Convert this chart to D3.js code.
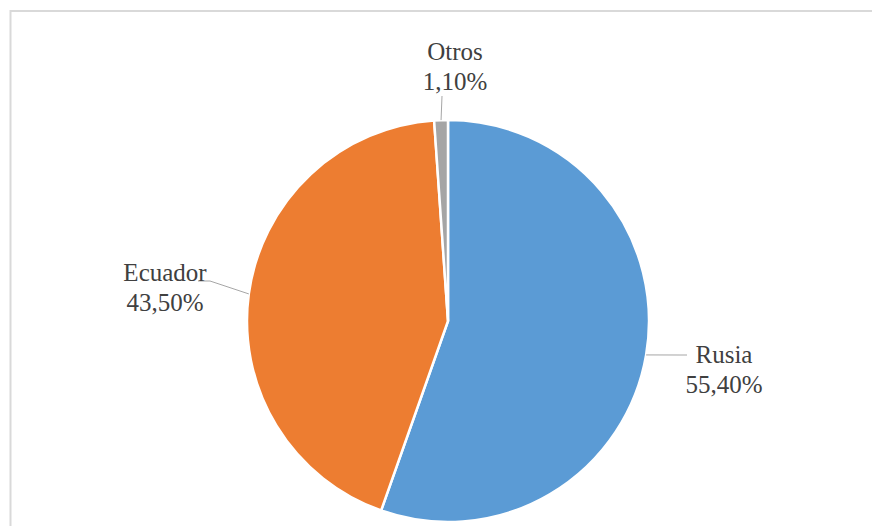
<!DOCTYPE html>
<html>
<head>
<meta charset="utf-8">
<script src="https://cdn.jsdelivr.net/npm/d3@7"></script>
</head>
<body style="margin:0;background:#fff">
<svg id="chart" width="872" height="526" style="display:block" font-family="serif"></svg>
<script>
// Export share by country
const categories = ["Rusia", "Ecuador", "Otros"];
const values = [55.4, 43.5, 1.1];
const valueLabels = ["55,40%", "43,50%", "1,10%"];
const colors = ["#5B9BD5", "#ED7D31", "#A5A5A5"];

const svg = d3.select("#chart");
const W = 872, H = 526;

// outer frame
svg.append("rect")
  .attr("x", 10.5).attr("y", 11)
  .attr("width", W + 20).attr("height", H + 20)
  .attr("fill", "#fff")
  .attr("stroke", "#d9d9d9").attr("stroke-width", 2);

const cx = 448, cy = 321, r = 201;
const g = svg.append("g").attr("transform", `translate(${cx},${cy})`);

const pie = d3.pie().sort(null).value(d => d.v)
  .startAngle(0).endAngle(2 * Math.PI);
const data = categories.map((c, i) => ({ c, v: values[i], label: valueLabels[i], color: colors[i] }));
const arcs = pie(data);
const arc = d3.arc().innerRadius(0).outerRadius(r);

g.selectAll("path.slice").data(arcs).enter().append("path")
  .attr("class", "slice")
  .attr("d", arc)
  .attr("fill", d => d.data.color)
  .attr("stroke", "#fff").attr("stroke-width", 2.5)
  .attr("stroke-linejoin", "round");

// label centres and leader-line elbows, relative to the pie centre
const layouts = [
  { tx: 276, ty: 42, elbow: [[231, 34], [239, 34]] },
  { tx: -283, ty: -40, elbow: [[-238, -40], [-250, -40]] },
  { tx: 7, ty: -261, elbow: [[-6, -225]] }
];

arcs.forEach((a, i) => {
  const L = layouts[i];
  const mid = (a.startAngle + a.endAngle) / 2;
  const ex = Math.sin(mid) * r, ey = -Math.cos(mid) * r;
  g.append("path")
    .attr("d", d3.line()([[ex, ey], ...L.elbow]))
    .attr("fill", "none")
    .attr("stroke", "#a6a6a6").attr("stroke-width", 1);

  // two-line label: category name over its share
  [a.data.c, a.data.label].forEach((s, k) => {
    g.append("text")
      .attr("x", L.tx).attr("y", L.ty + k * 30)
      .attr("text-anchor", "middle")
      .attr("font-family", "serif")
      .attr("font-size", 25)
      .attr("fill", "#404040")
      .text(s);
  });
});
</script>
</body>
</html>
